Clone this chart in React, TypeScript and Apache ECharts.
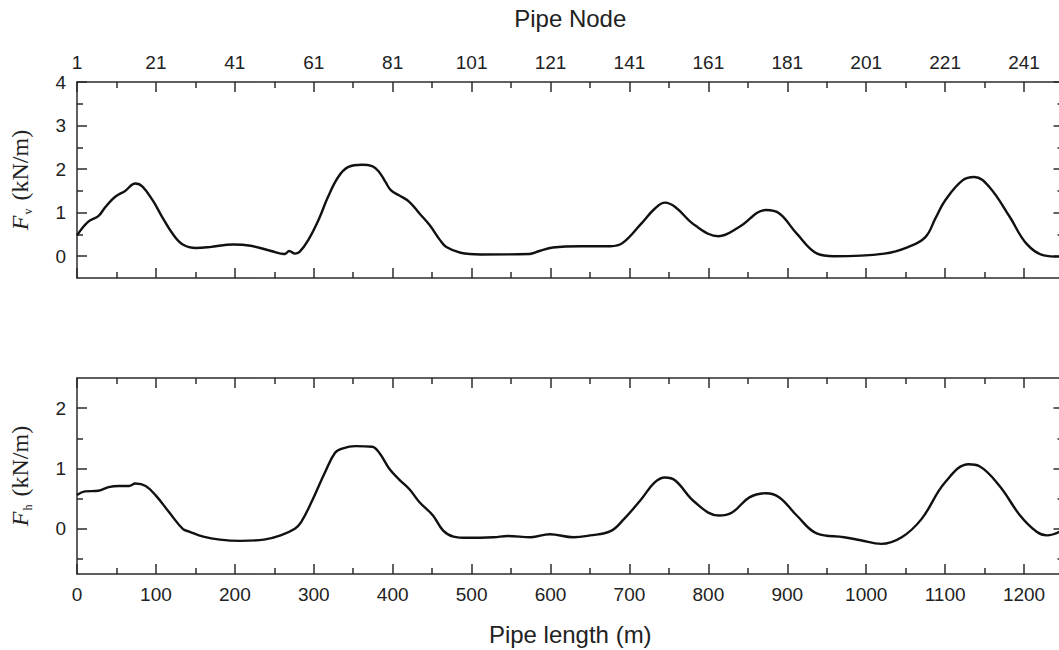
import React, { useEffect, useRef } from 'react';
import * as echarts from 'echarts';

// Pipe length (m) samples and force values
const fvLength = [0, 14, 27, 36, 48, 61, 74, 83, 96, 108, 121, 134, 151, 168, 198, 220, 246, 263, 269, 276, 282, 293, 306, 318, 331, 344, 361, 374, 383, 391, 398, 408, 421, 434, 447, 460, 468, 486, 511, 573, 586, 603, 638, 676, 691, 715, 732, 745, 758, 783, 813, 839, 873, 890, 912, 938, 959, 1023, 1053, 1075, 1088, 1100, 1122, 1137, 1156, 1182, 1203, 1225, 1245];
const fvValue = [0.48, 0.79, 0.92, 1.13, 1.36, 1.50, 1.67, 1.60, 1.28, 0.90, 0.52, 0.27, 0.19, 0.21, 0.27, 0.24, 0.12, 0.05, 0.12, 0.06, 0.10, 0.37, 0.83, 1.36, 1.82, 2.05, 2.10, 2.07, 1.93, 1.70, 1.51, 1.40, 1.25, 0.98, 0.71, 0.37, 0.21, 0.08, 0.04, 0.05, 0.12, 0.20, 0.23, 0.23, 0.30, 0.75, 1.09, 1.23, 1.13, 0.71, 0.46, 0.67, 1.06, 0.98, 0.52, 0.06, 0.00, 0.06, 0.21, 0.44, 0.88, 1.28, 1.74, 1.82, 1.59, 0.90, 0.29, 0.02, -0.01];

const fhLength = [0, 10, 27, 40, 53, 66, 74, 87, 100, 117, 134, 143, 160, 181, 207, 237, 258, 276, 284, 297, 314, 327, 336, 353, 374, 383, 396, 408, 421, 434, 451, 464, 477, 494, 528, 546, 575, 599, 629, 650, 676, 693, 715, 732, 745, 758, 783, 813, 830, 852, 873, 890, 912, 938, 972, 993, 1019, 1045, 1070, 1100, 1130, 1143, 1169, 1195, 1216, 1229, 1245];
const fhValue = [0.56, 0.62, 0.63, 0.69, 0.71, 0.71, 0.75, 0.71, 0.55, 0.27, 0.00, -0.05, -0.13, -0.18, -0.20, -0.18, -0.11, 0.00, 0.11, 0.44, 0.93, 1.26, 1.33, 1.37, 1.36, 1.26, 0.99, 0.82, 0.66, 0.44, 0.22, -0.03, -0.13, -0.15, -0.14, -0.12, -0.14, -0.09, -0.14, -0.11, -0.04, 0.16, 0.49, 0.77, 0.85, 0.80, 0.44, 0.22, 0.27, 0.52, 0.59, 0.52, 0.22, -0.08, -0.14, -0.19, -0.25, -0.14, 0.16, 0.77, 1.07, 1.04, 0.71, 0.22, -0.05, -0.11, -0.05];

// Tick values and labels
const lengthTicks = [0, 100, 200, 300, 400, 500, 600, 700, 800, 900, 1000, 1100, 1200];
const lengthMinorTicks = [50, 150, 250, 350, 450, 550, 650, 750, 850, 950, 1050, 1150];
const lengthLabels = ['0', '100', '200', '300', '400', '500', '600', '700', '800', '900', '1000', '1100', '1200'];
const nodeLabels = ['1', '21', '41', '61', '81', '101', '121', '141', '161', '181', '201', '221', '241'];
const fvTicks = [0, 1, 2, 3, 4];
const fvMinorTicks = [0.5, 1.5, 2.5, 3.5];
const fhTicks = [0, 1, 2];
const fhMinorTicks = [-0.5, 0.5, 1.5];

const LENGTH_MIN = 0;
const LENGTH_MAX = 1250;
const FV_MIN = -0.5;
const FV_MAX = 4;
const FH_MIN = -0.75;
const FH_MAX = 2.5;

const AXIS_COLOR = '#2b2b2b';
const axisLineStyle = { color: AXIS_COLOR, width: 1.5 };
const labelFont = { fontFamily: 'Liberation Sans, Arial, sans-serif', fontSize: 19, color: '#222' };
const MAJOR_LEN = 10;
const MINOR_LEN = 6;

function xAxisDef(gridIndex: number, position: string, ticks: number[], len: number, showLine: boolean, label?: any, extra?: any) {
  return {
    type: 'value',
    gridIndex,
    position,
    min: LENGTH_MIN,
    max: LENGTH_MAX,
    axisLine: { show: showLine, onZero: false, lineStyle: axisLineStyle },
    axisTick: { show: true, inside: true, length: len, customValues: ticks, lineStyle: axisLineStyle },
    axisLabel: label ? label : { show: false },
    splitLine: { show: false },
    ...(extra || {}),
  };
}

function yAxisDef(gridIndex: number, position: string, min: number, max: number, ticks: number[], len: number, showLine: boolean, label?: any, extra?: any) {
  return {
    type: 'value',
    gridIndex,
    position,
    min,
    max,
    axisLine: { show: showLine, onZero: false, lineStyle: axisLineStyle },
    axisTick: { show: true, inside: true, length: len, customValues: ticks, lineStyle: axisLineStyle },
    axisLabel: label ? label : { show: false },
    splitLine: { show: false },
    ...(extra || {}),
  };
}

const serif = 'Liberation Serif, Times New Roman, serif';
const yNameStyle = (sub: string) => ({
  name: `{i|F}{s|${sub}}{t| (kN/m)}`,
  nameLocation: 'middle',
  nameRotate: 90,
  nameGap: 45,
  nameTextStyle: {
    color: '#222',
    rich: {
      i: { fontFamily: serif, fontStyle: 'italic', fontSize: 24, color: '#222', verticalAlign: 'top', lineHeight: 24 },
      s: { fontFamily: serif, fontSize: 12, color: '#222', verticalAlign: 'top', padding: [14, 2, 0, 1], lineHeight: 12 },
      t: { fontFamily: serif, fontSize: 24, color: '#222', verticalAlign: 'top', lineHeight: 24 },
    },
  },
});

export default function App() {
  const ref = useRef<HTMLDivElement>(null);

  useEffect(() => {
    if (!ref.current) return;
    const chart = echarts.init(ref.current, undefined, { renderer: 'svg' });

    const gridLeft = 77;
    const gridWidth = 986.5;

    const option: any = {
      animation: false,
      backgroundColor: '#ffffff',
      grid: [
        { left: gridLeft, top: 82, width: gridWidth, height: 196, outerBoundsMode: 'none' },
        { left: gridLeft, top: 378, width: gridWidth, height: 196, outerBoundsMode: 'none' },
      ],
      xAxis: [
        // top panel
        xAxisDef(0, 'bottom', lengthTicks, MAJOR_LEN, true),
        xAxisDef(0, 'top', lengthTicks, MAJOR_LEN, true, {
          show: true,
          customValues: lengthTicks,
          margin: 10,
          ...labelFont,
          formatter: (v: number) => {
            const idx = lengthTicks.indexOf(v);
            return idx >= 0 ? nodeLabels[idx] : '';
          },
        }, {
          name: 'Pipe Node',
          nameLocation: 'middle',
          nameGap: 52,
          nameTextStyle: { fontFamily: 'Liberation Sans, Arial, sans-serif', fontSize: 24, color: '#222' },
        }),
        xAxisDef(0, 'bottom', lengthMinorTicks, MINOR_LEN, false),
        xAxisDef(0, 'top', lengthMinorTicks, MINOR_LEN, false),
        // bottom panel
        xAxisDef(1, 'bottom', lengthTicks, MAJOR_LEN, true, {
          show: true,
          customValues: lengthTicks,
          margin: 11,
          ...labelFont,
          formatter: (v: number) => {
            const idx = lengthTicks.indexOf(v);
            return idx >= 0 ? lengthLabels[idx] : '';
          },
        }, {
          name: 'Pipe length (m)',
          nameLocation: 'middle',
          nameGap: 48,
          nameTextStyle: { fontFamily: 'Liberation Sans, Arial, sans-serif', fontSize: 24, color: '#222' },
        }),
        xAxisDef(1, 'top', lengthTicks, MAJOR_LEN, true),
        xAxisDef(1, 'bottom', lengthMinorTicks, MINOR_LEN, false),
        xAxisDef(1, 'top', lengthMinorTicks, MINOR_LEN, false),
      ],
      yAxis: [
        // top panel
        yAxisDef(0, 'left', FV_MIN, FV_MAX, fvTicks, MAJOR_LEN, true, {
          show: true, customValues: fvTicks, margin: 11, ...labelFont,
        }, yNameStyle('v')),
        yAxisDef(0, 'right', FV_MIN, FV_MAX, fvTicks, MAJOR_LEN, true),
        yAxisDef(0, 'left', FV_MIN, FV_MAX, fvMinorTicks, MINOR_LEN, false),
        yAxisDef(0, 'right', FV_MIN, FV_MAX, fvMinorTicks, MINOR_LEN, false),
        // bottom panel
        yAxisDef(1, 'left', FH_MIN, FH_MAX, fhTicks, MAJOR_LEN, true, {
          show: true, customValues: fhTicks, margin: 11, ...labelFont,
        }, yNameStyle('h')),
        yAxisDef(1, 'right', FH_MIN, FH_MAX, fhTicks, MAJOR_LEN, true),
        yAxisDef(1, 'left', FH_MIN, FH_MAX, fhMinorTicks, MINOR_LEN, false),
        yAxisDef(1, 'right', FH_MIN, FH_MAX, fhMinorTicks, MINOR_LEN, false),
      ],
      series: [
        {
          name: 'Fv',
          type: 'line',
          xAxisIndex: 0,
          yAxisIndex: 0,
          data: fvLength.map((x, i) => [x, fvValue[i]]),
          showSymbol: false,
          symbol: 'none',
          smooth: 0.4,
          lineStyle: { color: '#111', width: 2.4 },
          clip: true,
        },
        {
          name: 'Fh',
          type: 'line',
          xAxisIndex: 4,
          yAxisIndex: 4,
          data: fhLength.map((x, i) => [x, fhValue[i]]),
          showSymbol: false,
          symbol: 'none',
          smooth: 0.4,
          lineStyle: { color: '#111', width: 2.4 },
          clip: true,
        },
      ],
    };

    chart.setOption(option);
    return () => {
      chart.dispose();
    };
  }, []);

  return (
    <div
      ref={ref}
      style={{ position: 'fixed', left: 0, top: 0, width: 1080, height: 650, background: '#fff' }}
    />
  );
}
